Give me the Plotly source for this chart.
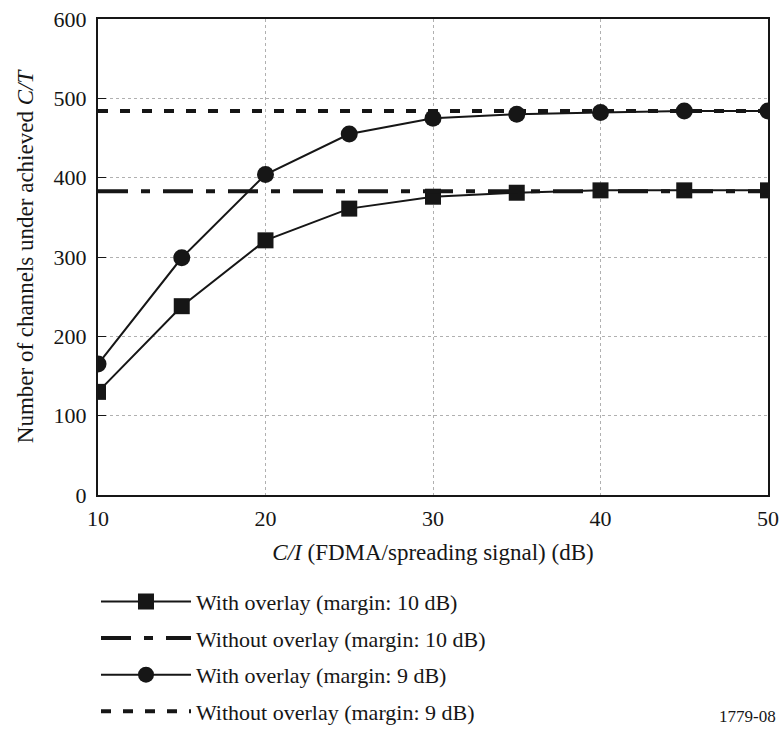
import plotly.graph_objects as go

ci_db = [10, 15, 20, 25, 30, 35, 40, 45, 50]
with_overlay_10 = [130, 238, 321, 361, 376, 381, 384, 384, 384]
with_overlay_9 = [165, 299, 404, 455, 475, 480, 482, 484, 484]
without_overlay_10 = [383, 383]
without_overlay_9 = [484, 484]
x_span = [10, 50]

names = ["With overlay (margin: 10 dB)", "Without overlay (margin: 10 dB)",
         "With overlay (margin: 9 dB)", "Without overlay (margin: 9 dB)"]

FONT = "Liberation Serif, Times New Roman, serif"
INK = "#161616"

fig = go.Figure()
fig.add_trace(go.Scatter(x=ci_db, y=with_overlay_10, mode="lines+markers", name=names[0],
                         legendgroup="a",
                         line=dict(color=INK, width=2),
                         marker=dict(symbol="square", size=16, color=INK)))
fig.add_trace(go.Scatter(x=x_span, y=without_overlay_10, mode="lines", name=names[1],
                         legendgroup="b",
                         line=dict(color=INK, width=4, dash="30px,13px,9px,13px")))
fig.add_trace(go.Scatter(x=ci_db, y=with_overlay_9, mode="lines+markers", name=names[2],
                         legendgroup="c",
                         line=dict(color=INK, width=2),
                         marker=dict(symbol="circle", size=17, color=INK)))
fig.add_trace(go.Scatter(x=x_span, y=without_overlay_9, mode="lines", name=names[3],
                         legendgroup="d",
                         line=dict(color=INK, width=4, dash="10px,12px")))

fig.update_layout(
    width=783, height=729,
    margin=dict(l=98, r=15, t=19, b=234),
    paper_bgcolor="white", plot_bgcolor="white",
    font=dict(family=FONT, size=22, color=INK),
    showlegend=True,
    legend=dict(x=-0.003, y=0.2035, xref="paper", yref="container",
                xanchor="left", yanchor="top",
                font=dict(family=FONT, size=22, color=INK),
                itemwidth=90, tracegroupgap=5, traceorder="grouped",
                bgcolor="rgba(0,0,0,0)"),
    annotations=[dict(text="1779-08", xref="paper", yref="paper", x=1.015, y=-0.466,
                      xanchor="right", yanchor="middle", showarrow=False,
                      font=dict(family=FONT, size=17, color=INK))],
)
fig.update_xaxes(range=[10, 50], tickvals=[10, 20, 30, 40, 50], automargin=False,
                 showline=True, linecolor=INK, linewidth=2, mirror=True,
                 showgrid=True, gridcolor="#b0b0b0", griddash="dot", gridwidth=1,
                 zeroline=False, ticks="", ticklen=0,
                 ticklabeloverflow="allow", ticklabelstandoff=3,
                 title=dict(text="<i>C/I</i> (FDMA/spreading signal) (dB)", standoff=13,
                            font=dict(family=FONT, size=23)),
                 tickfont=dict(family=FONT, size=22))
fig.update_yaxes(range=[0, 600], tickvals=[0, 100, 200, 300, 400, 500, 600], automargin=False,
                 showline=True, linecolor=INK, linewidth=2, mirror=True,
                 showgrid=True, gridcolor="#b0b0b0", griddash="dot", gridwidth=1,
                 zeroline=False, ticks="inside", ticklen=8, tickcolor=INK,
                 ticklabeloverflow="allow", ticklabelstandoff=5,
                 title=dict(text="Number of channels under achieved <i>C/T</i>", standoff=14,
                            font=dict(family=FONT, size=23)),
                 tickfont=dict(family=FONT, size=22))

fig.write_html("out.html",
               config={"displayModeBar": False},
               post_script="document.body.style.margin='0';document.body.style.overflow='hidden';")
